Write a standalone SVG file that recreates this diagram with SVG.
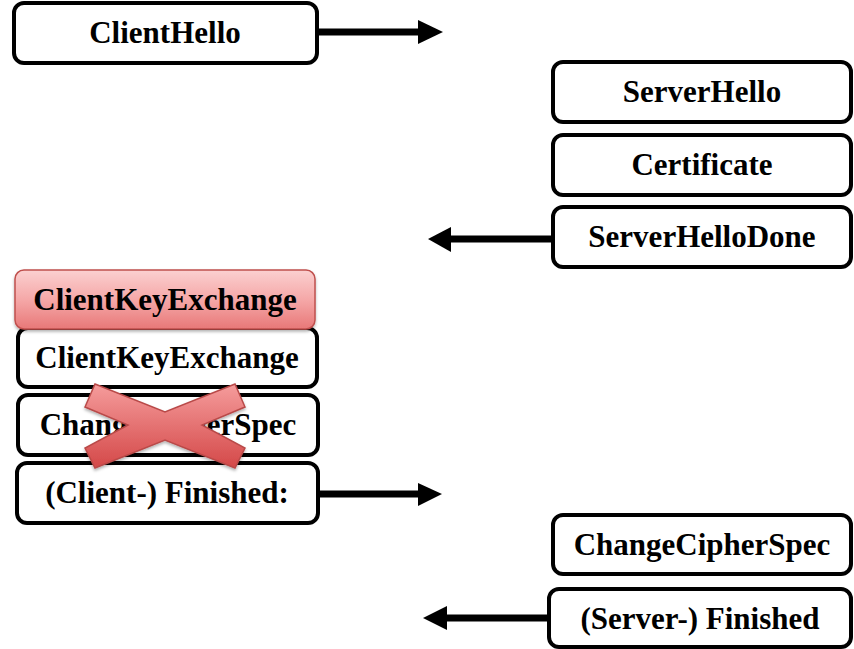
<svg xmlns="http://www.w3.org/2000/svg" width="854" height="649" viewBox="0 0 854 649">
  <style>
    .box { fill: #ffffff; stroke: #000000; stroke-width: 4; }
    .lbl { font-family: "Liberation Serif", "Times New Roman", serif; font-weight: bold; font-size: 31px; fill: #000000; text-anchor: middle; }
    .shaft { stroke: #000000; stroke-width: 7; fill: none; }
    .head { fill: #000000; }
    .hot { fill: url(#pinkFill); stroke: #c0504d; stroke-width: 1.5; filter: url(#soft); }
    .cross { fill: url(#crossFill); stroke: #b94a48; stroke-width: 1.5; filter: url(#soft); }
  </style>
  <defs>
    <linearGradient id="pinkFill" x1="0" y1="0" x2="0" y2="1">
      <stop offset="0" stop-color="#fbd0d0"/>
      <stop offset="0.5" stop-color="#f5a8a8"/>
      <stop offset="1" stop-color="#e87878"/>
    </linearGradient>
    <linearGradient id="crossFill" x1="0" y1="0" x2="0" y2="1">
      <stop offset="0" stop-color="#f59c9c"/>
      <stop offset="1" stop-color="#d44848"/>
    </linearGradient>
    <filter id="soft" x="-10%" y="-10%" width="120%" height="130%">
      <feDropShadow dx="0" dy="2" stdDeviation="1.5" flood-color="#000000" flood-opacity="0.3"/>
    </filter>
  </defs>

  <!-- client side messages -->
  <g id="client-hello">
    <rect class="box" x="14" y="3" width="303" height="60" rx="10"/>
    <text class="lbl" x="165" y="43">ClientHello</text>
  </g>

  <g id="client-key-exchange">
    <rect class="box" x="18" y="328" width="299" height="59" rx="10"/>
    <text class="lbl" x="167" y="368">ClientKeyExchange</text>
  </g>

  <g id="client-key-exchange-highlight">
    <rect class="hot" x="15" y="270" width="300" height="59" rx="9"/>
    <text class="lbl" x="165" y="310">ClientKeyExchange</text>
  </g>

  <g id="client-change-cipher-spec">
    <rect class="box" x="18" y="395" width="300" height="60" rx="10"/>
    <text class="lbl" x="168" y="435">ChangeCipherSpec</text>
  </g>

  <g id="client-finished">
    <rect class="box" x="17" y="463" width="301" height="60" rx="10"/>
    <text class="lbl" x="167" y="503">(Client-) Finished:</text>
  </g>

  <!-- server side messages -->
  <g id="server-hello">
    <rect class="box" x="553" y="62" width="298" height="60" rx="10"/>
    <text class="lbl" x="702" y="102">ServerHello</text>
  </g>

  <g id="certificate">
    <rect class="box" x="553" y="135" width="298" height="60" rx="10"/>
    <text class="lbl" x="702" y="175">Certificate</text>
  </g>

  <g id="server-hello-done">
    <rect class="box" x="553" y="207" width="298" height="60" rx="10"/>
    <text class="lbl" x="702" y="247">ServerHelloDone</text>
  </g>

  <g id="server-change-cipher-spec">
    <rect class="box" x="553" y="515" width="298" height="59" rx="10"/>
    <text class="lbl" x="702" y="555">ChangeCipherSpec</text>
  </g>

  <g id="server-finished">
    <rect class="box" x="549" y="589" width="302" height="58" rx="10"/>
    <text class="lbl" x="700" y="629">(Server-) Finished</text>
  </g>

  <!-- strike-through mark over the client ChangeCipherSpec -->
  <g id="cross-mark">
    <polygon class="cross" points="95,384 165,412 235,384 245,407 202,425 245,448 235,468 165,440 95,468 85,448 128,425 85,407"/>
  </g>

  <!-- message arrows -->
  <g id="connectors">
    <line class="shaft" x1="317" y1="32" x2="421" y2="32"/>
    <polygon class="head" points="418,20 443,32 418,44"/>

    <line class="shaft" x1="553" y1="239" x2="448" y2="239"/>
    <polygon class="head" points="451,227 428,239 451,252"/>

    <line class="shaft" x1="318" y1="494" x2="420" y2="494"/>
    <polygon class="head" points="418,483 442,494 418,506"/>

    <line class="shaft" x1="549" y1="618" x2="444" y2="618"/>
    <polygon class="head" points="447,606 423,618 447,630"/>
  </g>
</svg>
